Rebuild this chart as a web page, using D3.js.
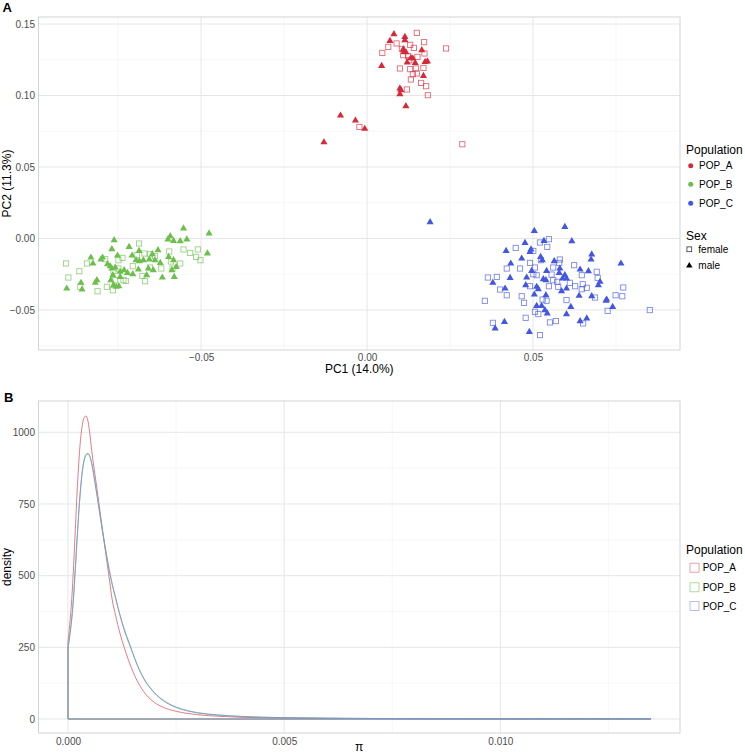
<!DOCTYPE html>
<html><head><meta charset="utf-8">
<script src="https://cdn.jsdelivr.net/npm/d3@7"></script>
<style>body{margin:0;background:#fff;} text{font-family:"Liberation Sans",Arial,sans-serif;}</style>
</head><body><svg id="c" width="745" height="753"></svg>
<script>
const populations = ["POP_A","POP_B","POP_C"];
const popColors = ["#d42a3a","#6cbf4d","#4357e0"];
const densColors = ["#dc5a66","#6fbf5a","#7d8fe6"];
const sexes = ["female","male"];
const pcaXTicks = [-0.05, 0, 0.05];
const pcaXMinor = [-0.075, -0.025, 0.025, 0.075];
const pcaYTicks = [-0.05, 0, 0.05, 0.10, 0.15];
const pcaYMinor = [-0.075, -0.025, 0.025, 0.075, 0.125];
const densXTicks = [0, 0.005, 0.010];
const densXMinor = [0.0025, 0.0075, 0.0125];
const densYTicks = [0, 250, 500, 750, 1000];
const densYMinor = [125, 375, 625, 875];

// PCA scores [PC1, PC2]
const popA_male = [[0.0081,0.1429],[0.0114,0.1410],[0.0114,0.1387],[0.0069,0.1382],[0.0109,0.1322],[0.0112,0.1305],[0.0117,0.1303],[0.0165,0.1317],[0.0138,0.1259],[0.0121,0.1231],[0.0145,0.1228],[0.0175,0.1235],[0.0182,0.1238],[0.0044,0.1207],[0.0170,0.1137],[0.0099,0.1049],[0.0102,0.1037],[0.0099,0.1009],[0.0117,0.0925],[-0.0080,0.0860],[-0.0035,0.0825],[-0.0007,0.0767],[-0.0130,0.0673],[0.0132,0.1262]];
const popA_female = [[0.0150,0.1438],[0.0172,0.1373],[0.0089,0.1364],[0.0064,0.1340],[0.0130,0.1354],[0.0141,0.1333],[0.0105,0.1326],[0.0173,0.1294],[0.0238,0.1329],[0.0046,0.1298],[0.0109,0.1282],[0.0124,0.1275],[0.0152,0.1270],[0.0127,0.1247],[0.0099,0.1189],[0.0130,0.1184],[0.0147,0.1189],[0.0170,0.1193],[0.0138,0.1149],[0.0150,0.1154],[0.0132,0.1112],[0.0163,0.1088],[0.0178,0.1065],[0.0120,0.1042],[0.0183,0.1002],[-0.0023,0.0780],[0.0287,0.0659]];
const popB_male = [[-0.0553,0.0070],[-0.0476,0.0035],[-0.0593,0.0016],[-0.0600,-0.0007],[-0.0583,-0.0017],[-0.0563,-0.0019],[-0.0543,-0.0007],[-0.0762,-0.0012],[-0.0717,-0.0059],[-0.0769,-0.0075],[-0.0630,-0.0082],[-0.0647,-0.0110],[-0.0481,-0.0105],[-0.0687,-0.0087],[-0.0598,-0.0129],[-0.0832,-0.0133],[-0.0797,-0.0133],[-0.0802,-0.0147],[-0.0752,-0.0119],[-0.0708,-0.0119],[-0.0696,-0.0152],[-0.0686,-0.0159],[-0.0674,-0.0152],[-0.0656,-0.0147],[-0.0639,-0.0152],[-0.0623,-0.0171],[-0.0826,-0.0175],[-0.0583,-0.0152],[-0.0575,-0.0199],[-0.0588,-0.0222],[-0.0774,-0.0194],[-0.0769,-0.0210],[-0.0759,-0.0203],[-0.0744,-0.0233],[-0.0732,-0.0222],[-0.0722,-0.0241],[-0.0706,-0.0250],[-0.0689,-0.0217],[-0.0659,-0.0210],[-0.0644,-0.0222],[-0.0664,-0.0257],[-0.0766,-0.0257],[-0.0772,-0.0292],[-0.0764,-0.0327],[-0.0748,-0.0334],[-0.0814,-0.0292],[-0.0819,-0.0310],[-0.0862,-0.0310],[-0.0859,-0.0357],[-0.0905,-0.0350],[-0.0617,-0.0273],[-0.0581,-0.0269],[-0.0744,-0.0269],[-0.0756,-0.0338],[-0.0782,-0.0180]];
const popB_female = [[-0.0687,-0.0035],[-0.0553,-0.0077],[-0.0533,-0.0101],[-0.0510,-0.0077],[-0.0515,-0.0129],[-0.0502,-0.0152],[-0.0596,-0.0091],[-0.0563,-0.0175],[-0.0591,-0.0161],[-0.0671,-0.0105],[-0.0654,-0.0110],[-0.0639,-0.0124],[-0.0694,-0.0117],[-0.0737,-0.0136],[-0.0749,-0.0152],[-0.0789,-0.0145],[-0.0844,-0.0175],[-0.0907,-0.0175],[-0.0867,-0.0229],[-0.0900,-0.0273],[-0.0706,-0.0194],[-0.0654,-0.0203],[-0.0620,-0.0210],[-0.0586,-0.0210],[-0.0749,-0.0210],[-0.0677,-0.0262],[-0.0727,-0.0297],[-0.0734,-0.0292],[-0.0669,-0.0299],[-0.0784,-0.0338],[-0.0766,-0.0362],[-0.0812,-0.0369],[-0.0864,-0.0338],[-0.0759,-0.0292],[-0.0764,-0.0227]];
const popC_male = [[0.0190,0.0114],[0.0596,0.0081],[0.0504,0.0053],[0.0617,-0.0019],[0.0533,-0.0017],[0.0476,-0.0031],[0.0419,-0.0087],[0.0494,-0.0077],[0.0491,-0.0094],[0.0466,-0.0140],[0.0523,-0.0129],[0.0528,-0.0152],[0.0677,-0.0112],[0.0675,-0.0147],[0.0765,-0.0175],[0.0433,-0.0175],[0.0564,-0.0159],[0.0581,-0.0210],[0.0642,-0.0217],[0.0667,-0.0229],[0.0496,-0.0227],[0.0541,-0.0227],[0.0579,-0.0241],[0.0596,-0.0257],[0.0589,-0.0280],[0.0431,-0.0276],[0.0481,-0.0273],[0.0531,-0.0285],[0.0539,-0.0292],[0.0601,-0.0280],[0.0702,-0.0303],[0.0697,-0.0327],[0.0379,-0.0310],[0.0478,-0.0327],[0.0511,-0.0338],[0.0516,-0.0355],[0.0601,-0.0350],[0.0586,-0.0369],[0.0416,-0.0350],[0.0504,-0.0392],[0.0539,-0.0397],[0.0639,-0.0401],[0.0677,-0.0404],[0.0722,-0.0427],[0.0720,-0.0436],[0.0614,-0.0478],[0.0740,-0.0478],[0.0511,-0.0471],[0.0526,-0.0471],[0.0536,-0.0501],[0.0543,-0.0524],[0.0601,-0.0529],[0.0642,-0.0578],[0.0662,-0.0559],[0.0414,-0.0583],[0.0386,-0.0629],[0.0489,-0.0653]];
const popC_female = [[0.0548,-0.0005],[0.0521,-0.0028],[0.0543,-0.0059],[0.0448,-0.0066],[0.0501,-0.0087],[0.0524,-0.0152],[0.0581,-0.0147],[0.0579,-0.0171],[0.0491,-0.0171],[0.0624,-0.0187],[0.0421,-0.0210],[0.0461,-0.0210],[0.0506,-0.0203],[0.0561,-0.0203],[0.0692,-0.0233],[0.0501,-0.0250],[0.0511,-0.0257],[0.0556,-0.0252],[0.0647,-0.0257],[0.0695,-0.0276],[0.0364,-0.0273],[0.0391,-0.0269],[0.0561,-0.0292],[0.0573,-0.0303],[0.0611,-0.0310],[0.0491,-0.0334],[0.0548,-0.0334],[0.0576,-0.0338],[0.0627,-0.0334],[0.0650,-0.0320],[0.0647,-0.0355],[0.0662,-0.0345],[0.0772,-0.0343],[0.0401,-0.0357],[0.0421,-0.0397],[0.0466,-0.0404],[0.0687,-0.0413],[0.0749,-0.0397],[0.0769,-0.0404],[0.0355,-0.0436],[0.0473,-0.0450],[0.0529,-0.0427],[0.0541,-0.0436],[0.0601,-0.0431],[0.0506,-0.0513],[0.0516,-0.0529],[0.0725,-0.0506],[0.0852,-0.0501],[0.0478,-0.0555],[0.0379,-0.0590],[0.0551,-0.0587],[0.0569,-0.0578],[0.0651,-0.0594],[0.0521,-0.0676]];

// Nucleotide diversity densities [pi, density]
const densA = [[0,270],[0.00004,330],[0.000086,415],[0.00013,535],[0.00018,695],[0.00023,845],[0.00028,958],[0.00033,1025],[0.00038,1053],[0.000416,1057],[0.00045,1047],[0.0005,1002],[0.000548,937],[0.00065,825],[0.00075,713],[0.00085,603],[0.00095,495],[0.001024,415],[0.0011,362],[0.0012,300],[0.0013,250],[0.0014,205],[0.0015,166],[0.0016,133],[0.0017,107],[0.0018,86],[0.002,58],[0.0022,41],[0.0025,27],[0.003,15],[0.0035,9.5],[0.004,6],[0.0045,4.5],[0.005,3.3],[0.006,2],[0.007,1.3],[0.008,0.9],[0.01,0.5],[0.012,0.3],[0.01348,0.1]];
const densB = [[0,250],[0.00005,305],[0.0001,375],[0.000122,415],[0.00017,530],[0.00022,655],[0.00027,768],[0.00032,853],[0.00037,903],[0.00042,924],[0.00046,927],[0.0005,919],[0.00055,892],[0.0006,848],[0.0007,752],[0.0008,652],[0.0009,562],[0.001,483],[0.00111,415],[0.0012,362],[0.0013,310],[0.0014,268],[0.0015,228],[0.0016,188],[0.0017,155],[0.0018,128],[0.0019,108],[0.002,90],[0.0022,64],[0.0025,40],[0.0028,27],[0.003,21],[0.0035,13],[0.004,9],[0.0045,6],[0.005,4.5],[0.006,2.8],[0.007,1.8],[0.008,1.2],[0.009,0.9],[0.01,0.6],[0.011,0.4],[0.012,0.3],[0.01348,0.1]];
const densC = [[0,245],[0.00005,298],[0.0001,368],[0.000125,415],[0.00017,522],[0.00022,648],[0.00027,760],[0.00032,846],[0.00037,898],[0.00042,920],[0.00046,924],[0.0005,917],[0.00055,890],[0.0006,847],[0.0007,753],[0.0008,655],[0.0009,566],[0.001,487],[0.00111,418],[0.0012,365],[0.0013,314],[0.0014,272],[0.0015,230],[0.0016,190],[0.0017,157],[0.0018,130],[0.0019,110],[0.002,92],[0.0022,66],[0.0025,42],[0.0028,28],[0.003,22],[0.0035,14],[0.004,9],[0.0045,6.5],[0.005,4.8],[0.006,3],[0.007,2],[0.008,1.3],[0.009,0.9],[0.01,0.6],[0.011,0.4],[0.012,0.3],[0.01348,0.1]];

const svg = d3.select("#c");
const F = '"Liberation Sans",Arial,sans-serif';

// ---------- Panel A ----------
const A = {l:38.5, r:680, t:17, b:350};
const xA = d3.scaleLinear().domain([-0.0990, 0.0943]).range([A.l, A.r]);
const yA = d3.scaleLinear().domain([-0.0780, 0.1549]).range([A.b, A.t]);
const gA = svg.append("g");
gA.selectAll(".vmin").data(pcaXMinor).join("line").attr("x1",d=>xA(d)).attr("x2",d=>xA(d)).attr("y1",A.t).attr("y2",A.b).attr("stroke","#f2f2f2").attr("stroke-width",0.6);
gA.selectAll(".hmin").data(pcaYMinor).join("line").attr("y1",d=>yA(d)).attr("y2",d=>yA(d)).attr("x1",A.l).attr("x2",A.r).attr("stroke","#f2f2f2").attr("stroke-width",0.6);
gA.append("g").selectAll("line").data(pcaXTicks).join("line").attr("x1",d=>xA(d)).attr("x2",d=>xA(d)).attr("y1",A.t).attr("y2",A.b).attr("stroke","#e6e6e6").attr("stroke-width",1);
gA.append("g").selectAll("line").data(pcaYTicks).join("line").attr("y1",d=>yA(d)).attr("y2",d=>yA(d)).attr("x1",A.l).attr("x2",A.r).attr("stroke","#e6e6e6").attr("stroke-width",1);
gA.append("rect").attr("x",A.l).attr("y",A.t).attr("width",A.r-A.l).attr("height",A.b-A.t).attr("fill","none").attr("stroke","#d4d4d4").attr("stroke-width",1);

const axXA = gA.append("g").attr("transform",`translate(0,${A.b})`).call(d3.axisBottom(xA).tickValues(pcaXTicks).tickSize(0).tickPadding(4).tickFormat(d3.format(".2f")));
const axYA = gA.append("g").attr("transform",`translate(${A.l},0)`).call(d3.axisLeft(yA).tickValues(pcaYTicks).tickSize(0).tickPadding(3.5).tickFormat(d3.format(".2f")));
[axXA, axYA].forEach(a=>{a.select(".domain").remove(); a.selectAll("text").attr("font-size",10).attr("fill","#4d4d4d").attr("font-family",F);});

const ptsA = [[popA_female,popA_male],[popB_female,popB_male],[popC_female,popC_male]];
const tri = d3.symbol(d3.symbolTriangle, 22);
ptsA.forEach((pair,i)=>{
  gA.append("g").selectAll("rect").data(pair[0]).join("rect")
    .attr("x",d=>xA(d[0])-2.6).attr("y",d=>yA(d[1])-2.6).attr("width",5.2).attr("height",5.2)
    .attr("fill","none").attr("stroke",popColors[i]).attr("stroke-width",0.9).attr("stroke-opacity",0.7);
  gA.append("g").selectAll("path").data(pair[1]).join("path")
    .attr("d",tri).attr("transform",d=>`translate(${xA(d[0])},${yA(d[1])})`)
    .attr("fill",popColors[i]);
});

svg.append("text").attr("x",(A.l+A.r)/2).attr("y",373).attr("text-anchor","middle").attr("font-size",12).attr("font-family",F).text("PC1 (14.0%)");
svg.append("text").attr("transform",`translate(11,${(A.t+A.b)/2}) rotate(-90)`).attr("text-anchor","middle").attr("font-size",12).attr("font-family",F).text("PC2 (11.3%)");
svg.append("text").attr("x",2.5).attr("y",11.7).attr("font-size",13).attr("font-weight","bold").attr("font-family",F).text("A");

// legend A
const lgA = svg.append("g").attr("font-family",F);
lgA.append("text").attr("x",686).attr("y",154).attr("font-size",12).text("Population");
const popKeyY = [165.7,184.3,203.3];
populations.forEach((p,i)=>{
  lgA.append("circle").attr("cx",690.7).attr("cy",popKeyY[i]).attr("r",2.5).attr("fill",popColors[i]);
  lgA.append("text").attr("x",699).attr("y",popKeyY[i]+3.6).attr("font-size",10).text(p);
});
lgA.append("text").attr("x",686).attr("y",240).attr("font-size",12).text("Sex");
const sexKeyY = [249.3,265.7];
lgA.append("rect").attr("x",689.3-2.4).attr("y",sexKeyY[0]-2.4).attr("width",4.8).attr("height",4.8).attr("fill","none").attr("stroke","#333").attr("stroke-width",0.8);
lgA.append("path").attr("d",d3.symbol(d3.symbolTriangle,18)).attr("transform",`translate(689.3,${sexKeyY[1]})`).attr("fill","#000");
sexes.forEach((s,i)=>{
  lgA.append("text").attr("x",698.3).attr("y",sexKeyY[i]+3.6).attr("font-size",10).text(s);
});

// ---------- Panel B ----------
const B = {l:38.5, r:680, t:401, b:733};
const xB = d3.scaleLinear().domain([-0.000682, 0.014154]).range([B.l, B.r]);
const yB = d3.scaleLinear().domain([-48.8, 1109.2]).range([B.b, B.t]);
const gB = svg.append("g");
gB.selectAll(".vmin").data(densXMinor).join("line").attr("x1",d=>xB(d)).attr("x2",d=>xB(d)).attr("y1",B.t).attr("y2",B.b).attr("stroke","#f2f2f2").attr("stroke-width",0.6);
gB.selectAll(".hmin").data(densYMinor).join("line").attr("y1",d=>yB(d)).attr("y2",d=>yB(d)).attr("x1",B.l).attr("x2",B.r).attr("stroke","#f2f2f2").attr("stroke-width",0.6);
gB.append("g").selectAll("line").data(densXTicks).join("line").attr("x1",d=>xB(d)).attr("x2",d=>xB(d)).attr("y1",B.t).attr("y2",B.b).attr("stroke","#e6e6e6").attr("stroke-width",1);
gB.append("g").selectAll("line").data(densYTicks).join("line").attr("y1",d=>yB(d)).attr("y2",d=>yB(d)).attr("x1",B.l).attr("x2",B.r).attr("stroke","#e6e6e6").attr("stroke-width",1);
gB.append("rect").attr("x",B.l).attr("y",B.t).attr("width",B.r-B.l).attr("height",B.b-B.t).attr("fill","none").attr("stroke","#d4d4d4").attr("stroke-width",1);

const axXB = gB.append("g").attr("transform",`translate(0,${B.b})`).call(d3.axisBottom(xB).tickValues(densXTicks).tickSize(0).tickPadding(5).tickFormat(d3.format(".3f")));
const axYB = gB.append("g").attr("transform",`translate(${B.l},0)`).call(d3.axisLeft(yB).tickValues(densYTicks).tickSize(0).tickPadding(3.5).tickFormat(d3.format("d")));
[axXB, axYB].forEach(a=>{a.select(".domain").remove(); a.selectAll("text").attr("font-size",10).attr("fill","#4d4d4d").attr("font-family",F);});

const curve = d3.line().x(d=>xB(d[0])).y(d=>yB(d[1])).curve(d3.curveMonotoneX);
const lin = d3.line().x(d=>xB(d[0])).y(d=>yB(d[1]));
[densA, densB, densC].forEach((dd,i)=>{
  const last = dd[dd.length-1];
  gB.append("path").attr("d", lin([[last[0],last[1]],[last[0],0],[0,0],[0,dd[0][1]]])).attr("fill","none").attr("stroke",densColors[i]).attr("stroke-width",0.8);
  gB.append("path").attr("d", curve(dd)).attr("fill","none").attr("stroke",densColors[i]).attr("stroke-width",0.8);
});

svg.append("text").attr("x",(B.l+B.r)/2).attr("y",751).attr("text-anchor","middle").attr("font-size",12).attr("font-family",F).text("π");
svg.append("text").attr("transform",`translate(11,${(B.t+B.b)/2}) rotate(-90)`).attr("text-anchor","middle").attr("font-size",12).attr("font-family",F).text("density");
svg.append("text").attr("x",4).attr("y",401.7).attr("font-size",13).attr("font-weight","bold").attr("font-family",F).text("B");

// legend B
const lgB = svg.append("g").attr("font-family",F);
lgB.append("text").attr("x",686).attr("y",554).attr("font-size",12).text("Population");
const densKeyY = [567.7,587.3,606];
populations.forEach((p,i)=>{
  lgB.append("rect").attr("x",690).attr("y",densKeyY[i]-4.5).attr("width",9).attr("height",9).attr("fill","#fff").attr("stroke",densColors[i]).attr("stroke-opacity",0.7).attr("stroke-width",0.8);
  lgB.append("text").attr("x",702.7).attr("y",densKeyY[i]+3.6).attr("font-size",10).text(p);
});
</script></body></html>
